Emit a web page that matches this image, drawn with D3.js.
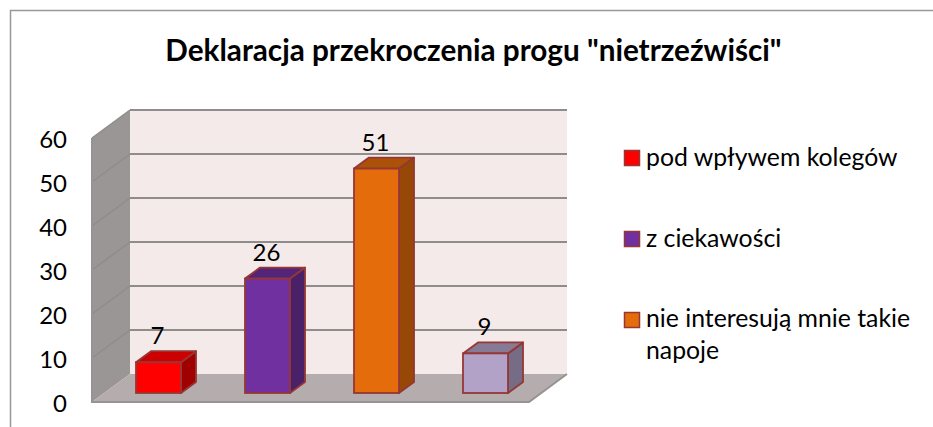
<!DOCTYPE html>
<html><head><meta charset="utf-8">
<script src="https://cdn.jsdelivr.net/npm/d3@7/dist/d3.min.js"></script>
<style>html,body{margin:0;padding:0;background:#fff}svg{display:block}text{font-family:Lato,"Noto Sans",sans-serif;fill:#000}</style>
</head><body><svg id="c" width="933" height="427"></svg>
<script>
const titleText = 'Deklaracja przekroczenia progu "nietrzeźwiści"';
const categories = ["pod wpływem kolegów", "z ciekawości", "nie interesują mnie takie napoje", ""];
const values = [7, 26, 51, 9];
const faceColors = ["#ff0000", "#7030a0", "#e46c0a", "#b3a2c7"];
const topColors = ["#cc0000", "#542478", "#ab5108", "#867a95"];
const sideColors = ["#a00000", "#4a2068", "#974806", "#776c85"];
const yTicks = [0, 10, 20, 30, 40, 50, 60];
const legendLines = [["pod wpływem kolegów"], ["z ciekawości"], ["nie interesują mnie takie", "napoje"]];

const svg = d3.select("#c");
svg.append("path").attr("d", "M933,10.5H10.5V427").attr("fill", "none").attr("stroke", "#999").attr("stroke-width", 1.5);
svg.append("text").attr("x", 473.5).attr("y", 61).attr("text-anchor", "middle")
  .attr("font-size", 29.7).attr("font-weight", 700).text(titleText);

const yFront = d3.scaleLinear().domain([0, 60]).range([402, 138]);
const depth = {dx: 38, dy: -28};
const x0 = 92, x1 = 529;
const yBack = v => yFront(v) + depth.dy;
const xBack0 = x0 + depth.dx, xBack1 = x1 + depth.dx;
const line = d3.line();

svg.append("path").attr("d", line([[xBack0, yBack(60)], [xBack1, yBack(60)], [xBack1, yBack(0)], [xBack0, yBack(0)]]) + "Z").attr("fill", "#f5eaea");
svg.append("path").attr("d", line([[x0, yFront(60)], [xBack0, yBack(60)], [xBack0, yBack(0)], [x0, yFront(0)]]) + "Z").attr("fill", "#9b9696");
svg.append("path").attr("d", line([[x0, yFront(0)], [xBack0, yBack(0)], [xBack1, yBack(0)], [x1, yFront(0)]]) + "Z").attr("fill", "#b5adad");

const grid = svg.append("g");
yTicks.forEach(t => {
  if (t > 0) grid.append("line").attr("x1", xBack0).attr("x2", xBack1).attr("y1", yBack(t)).attr("y2", yBack(t)).attr("stroke", "#8f8c8c").attr("stroke-width", 2);
  if (t > 0) grid.append("line").attr("x1", x0).attr("x2", xBack0).attr("y1", yFront(t)).attr("y2", yBack(t)).attr("stroke", "#8f8c8c").attr("stroke-width", 1.5);
});
svg.append("path").attr("d", line([[x0, yFront(60)], [x0, yFront(0)], [x1, yFront(0)], [xBack1, yBack(0)]])).attr("fill", "none").attr("stroke", "#969393").attr("stroke-width", 2);

const axis = svg.append("g").attr("transform", "translate(73,2)")
  .call(d3.axisLeft(yFront).tickValues(yTicks).tickSize(0).tickPadding(6));
axis.select(".domain").remove();
axis.selectAll("text").attr("font-size", 24).style("font-family", 'Lato,"Noto Sans",sans-serif').attr("fill", "#000");

const xBand = d3.scaleBand().domain(categories).range([104, 540]).paddingInner(0.587).paddingOuter(0.2935);
const barDx = 15, barDy = -11, baseDrop = -9;
const bars = svg.append("g").selectAll("g").data(values).join("g");
const stroke = "#953735";
const face = (v, i) => {
  const l = xBand(categories[i]), r = l + xBand.bandwidth(), b = yFront(0) + baseDrop, t = yFront(v) + baseDrop;
  return {l, r, b, t};
};
bars.append("path").attr("d", (v, i) => { const f = face(v, i);
    return line([[f.r, f.t], [f.r + barDx, f.t + barDy], [f.r + barDx, f.b + barDy], [f.r, f.b]]) + "Z"; })
  .attr("fill", (v, i) => sideColors[i]).attr("stroke", stroke).attr("stroke-width", 1.8).attr("stroke-linejoin", "round");
bars.append("path").attr("d", (v, i) => { const f = face(v, i);
    return line([[f.l, f.t], [f.l + barDx, f.t + barDy], [f.r + barDx, f.t + barDy], [f.r, f.t]]) + "Z"; })
  .attr("fill", (v, i) => topColors[i]).attr("stroke", stroke).attr("stroke-width", 1.8).attr("stroke-linejoin", "round");
bars.append("rect").attr("x", (v, i) => face(v, i).l).attr("y", (v, i) => face(v, i).t)
  .attr("width", xBand.bandwidth()).attr("height", (v, i) => face(v, i).b - face(v, i).t)
  .attr("fill", (v, i) => faceColors[i]).attr("stroke", stroke).attr("stroke-width", 1.8);
bars.append("text").attr("x", (v, i) => (face(v, i).l + face(v, i).r) / 2 - 1).attr("y", (v, i) => face(v, i).t - 18)
  .attr("text-anchor", "middle").attr("font-size", 24).text(v => v);

const legendY = [150, 231, 312];
const legendBase = [166, 247, 327];
legendLines.forEach((lines, i) => {
  svg.append("rect").attr("x", 624.5).attr("y", legendY[i] + 0.5).attr("width", 15).attr("height", 15)
    .attr("fill", faceColors[i]).attr("stroke", stroke).attr("stroke-width", 1.5);
  lines.forEach((s, j) => svg.append("text").attr("x", 646).attr("y", legendBase[i] + j * 31.5)
    .attr("font-size", 24.8).text(s));
});
</script></body></html>
